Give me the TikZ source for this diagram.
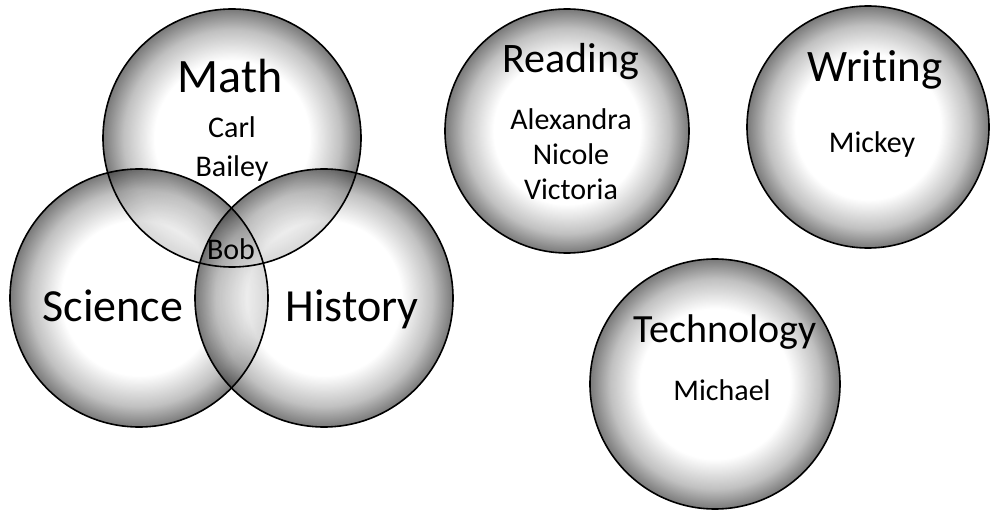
\documentclass[tikz,border=0pt]{standalone}
\usepackage{fontspec}
\setmainfont{Carlito}[Ligatures=NoCommon]
\pgfdeclareradialshading{bubble}{\pgfpoint{0bp}{0bp}}{color(0bp)=(white); color(15bp)=(white); color(21bp)=(black!35); color(25bp)=(black!75); color(50bp)=(black!75)}
\tikzset{
  subject/.style={circle, inner sep=0pt, shade, shading=bubble, fill opacity=0.7},
  ring/.style={circle, inner sep=0pt, draw=black, line width=1.6pt},
  topic/.style={anchor=base, inner sep=0pt},
  person/.style={anchor=base, inner sep=0pt, font=\fontsize{30bp}{34bp}\selectfont},
}
\def\subjects{math/232/138/258, science/139/298/258, history/324/298/258,
  reading/567/131/244, writing/868/127/242, technology/715/384/250}
\begin{document}
\begin{tikzpicture}[x=1bp, y=-1bp]
  \useasboundingbox (0,0) rectangle (991,510);
  % shaded discs first, outlines on top
  \foreach \n/\x/\y/\d in \subjects
    \node[subject, minimum size=\d bp] (\n) at (\x,\y) {};
  \foreach \n/\x/\y/\d in \subjects
    \node[ring, minimum size=\d bp] (\n-ring) at (\x,\y) {};

  % venn part
  \node[topic, font=\fontsize{48bp}{52bp}\selectfont] (mathlbl) at (230,93) {Math};
  \node[person] (carl) at (232,138) {Carl};
  \node[person] (bailey) at (232,177) {Bailey};
  \node[person] (bob) at (231,260) {Bob};
  \node[topic, font=\fontsize{46bp}{50bp}\selectfont] (sciencelbl) at (113,322) {Science};
  \node[topic, font=\fontsize{46bp}{50bp}\selectfont] (historylbl) at (352,322) {History};

  % single subjects
  \node[topic, font=\fontsize{42bp}{46bp}\selectfont] (readinglbl) at (571,73) {Reading};
  \node[person] (alexandra) at (571,130) {Alexandra};
  \node[person] (nicole) at (571,165) {Nicole};
  \node[person] (victoria) at (571,200) {Victoria};
  \node[topic, font=\fontsize{45bp}{49bp}\selectfont] (writinglbl) at (875,82) {Writing};
  \node[person] (mickey) at (872,153) {Mickey};
  \node[topic, font=\fontsize{40bp}{44bp}\selectfont] (technologylbl) at (725,343) {Technology};
  \node[person] (michael) at (722,400) {Michael};
\end{tikzpicture}
\end{document}
